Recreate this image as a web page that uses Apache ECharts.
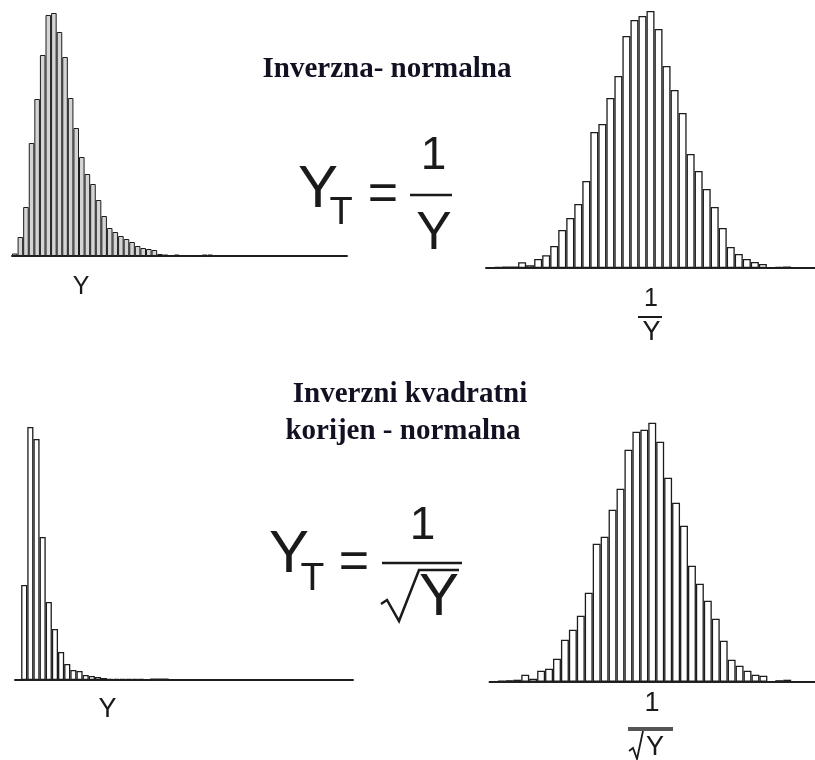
<!DOCTYPE html>
<html>
<head>
<meta charset="utf-8">
<script src="https://cdn.jsdelivr.net/npm/echarts@6/dist/echarts.min.js"></script>
<style>
  html, body { margin: 0; padding: 0; background: #fff; }
  #main { width: 815px; height: 760px; }
</style>
</head>
<body>
<div id="main"></div>
<script>
// histogram counts (bar heights in px)
const rawInvCounts = [2.5, 19, 49, 113, 157, 201, 241, 243, 224, 199, 158, 128, 99, 82, 72, 56, 40, 28, 24, 20,
  17, 14, 10, 8, 7, 6, 2, 1.5, 1, 1.5, 1, 1, 0, 0, 1.5, 1.5, 0, 0, 0, 0,
  0, 0, 0, 0, 0, 0, 0, 0, 0, 0, 0, 0, 0, 0, 0, 0, 0, 0, 0, 0]
const invCounts = [0, 1, 1.5, 1.5, 5.7, 2.7, 9, 12.7, 22, 38, 50, 64, 87, 136, 144, 170, 192, 232, 248, 252,
  257, 239, 202, 178, 155, 114, 97, 79, 61, 40, 21, 14, 9, 6, 4, 0, 1, 1.5, 0, 0, 0]
const rawSqrtCounts = [0, 95, 253, 241, 143, 78, 51, 28, 16, 10, 9, 5, 4, 3, 2, 1, 1, 1, 1, 1,
  1, 0, 1.5, 1.5, 1.5, 0, 0, 0, 0, 0, 0, 0, 0, 0, 0, 0, 0, 0, 0, 0,
  0, 0, 0, 0, 0, 0, 0, 0, 0, 0, 0, 0, 0, 0, 0]
const sqrtCounts = [0, 1, 1.5, 2, 7, 3, 11, 13, 23, 42, 52, 66, 89, 138, 145, 172, 193, 232, 250, 252,
  259, 240, 204, 179, 156, 116, 98, 81, 63, 41, 22, 16, 11, 7, 6, 0, 1.5, 2, 0, 0, 0]

const bins = arr => arr.map((_, i) => String(i))

const chart = echarts.init(document.getElementById('main'))

// one grid per histogram
const grids = [
  {left: 12, top: 6, width: 335, height: 250},
  {left: 486, top: 3, width: 331, height: 265},
  {left: 15, top: 420, width: 338, height: 260},
  {left: 489.5, top: 416.7, width: 330.5, height: 265}
]
const yMax = [250, 265, 260, 265]
const datasets = [rawInvCounts, invCounts, rawSqrtCounts, sqrtCounts]
const fills = ['#d4d4d4', '#fff', '#fff', '#fff']

const sans = '"Liberation Sans", Arial, sans-serif'
const serif = 'bold 29px "Liberation Serif", "Times New Roman", serif'
const ink = '#1a1a1a'

function txt(text, x, y, size, extra) {
  return {
    type: 'text', z: 10,
    style: Object.assign({
      text: text, x: x, y: y,
      font: size + 'px ' + sans,
      fill: ink, textAlign: 'center', textVerticalAlign: 'middle'
    }, extra || {})
  }
}
function bar(x1, x2, y, w, color) {
  return {type: 'line', z: 10, shape: {x1: x1, y1: y, x2: x2, y2: y},
    style: {stroke: color || ink, lineWidth: w}}
}

const option = {
  animation: false,
  grid: grids,
  xAxis: datasets.map((d, i) => ({
    type: 'category', gridIndex: i, data: bins(d),
    axisTick: {show: false}, axisLabel: {show: false},
    axisLine: {lineStyle: {color: '#222', width: 2}}
  })),
  yAxis: datasets.map((d, i) => ({
    type: 'value', gridIndex: i, min: 0, max: yMax[i], show: false
  })),
  series: datasets.map((d, i) => ({
    type: 'bar', xAxisIndex: i, yAxisIndex: i, data: d,
    barCategoryGap: '0%',
    itemStyle: {color: fills[i], borderColor: '#1c1c1c', borderWidth: i === 0 ? 1 : 1.3}
  })),
  graphic: [
    // titles
    txt('Inverzna- normalna', 387, 70, 29, {font: serif, fill: '#111122'}),
    txt('Inverzni kvadratni', 410, 395, 29, {font: serif, fill: '#111122'}),
    txt('korijen - normalna', 403, 432, 29, {font: serif, fill: '#111122'}),
    // Y_T = 1 / Y
    txt('Y', 318, 190, 60),
    txt('T', 341, 213.5, 38),
    txt('=', 383, 195.5, 52),
    txt('1', 433.5, 156.5, 46),
    bar(410, 452, 195, 2.5),
    txt('Y', 434, 234, 53),
    // Y_T = 1 / sqrt(Y)
    txt('Y', 289, 555, 60),
    txt('T', 312.5, 579, 39),
    txt('=', 354, 563.5, 52),
    txt('1', 422.5, 526.5, 46),
    bar(382, 462, 563, 2.5),
    {type: 'polyline', z: 10, shape: {points: [[381, 604], [387, 600], [399, 621], [419, 570], [459, 570]]},
      style: {stroke: ink, lineWidth: 2.5, fill: null}},
    txt('Y', 439, 598.5, 60),
    // axis captions
    txt('Y', 81, 287.5, 25),
    txt('1', 651, 299, 25),
    bar(638, 662, 317, 2),
    txt('Y', 651.5, 332.5, 27),
    txt('Y', 107.5, 710, 27),
    txt('1', 652, 704, 27),
    bar(628, 673, 729, 4, '#555'),
    {type: 'polyline', z: 10, shape: {points: [[629, 751], [633, 748], [637, 759], [643, 731]]},
      style: {stroke: ink, lineWidth: 1.8, fill: null}},
    txt('Y', 655, 748, 27)
  ]
}

chart.setOption(option)
</script>
</body>
</html>
